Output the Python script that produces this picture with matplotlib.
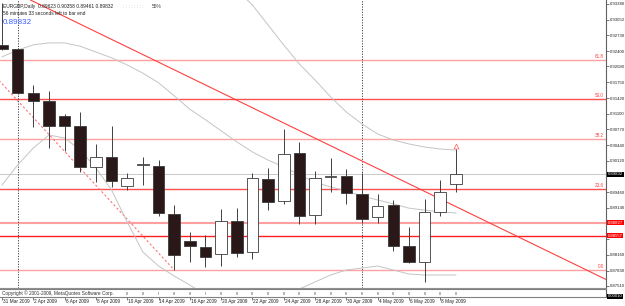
import numpy as np
import matplotlib
matplotlib.use("Agg")
import matplotlib.pyplot as plt
from matplotlib.patches import Rectangle

plt.rcParams['font.family'] = ['Liberation Sans', 'DejaVu Sans']

# ---------------- data (EURGBP daily) ----------------
opens = [0.92526, 0.92443, 0.91527, 0.91361, 0.91048, 0.90840, 0.89987, 0.90195, 0.89591, 0.90028,
         0.90008, 0.89009, 0.88446, 0.88321, 0.88176, 0.88863, 0.88217, 0.89737, 0.89279, 0.90278,
         0.88988, 0.89779, 0.89799, 0.89425, 0.88946, 0.89196, 0.88342, 0.88009, 0.89050, 0.89623]
highs = [0.93401, 0.92464, 0.91694, 0.91569, 0.91090, 0.91132, 0.90465, 0.90840, 0.89862, 0.90195,
         0.90132, 0.89196, 0.88634, 0.88571, 0.89112, 0.89133, 0.89862, 0.89966, 0.90778, 0.90507,
         0.89903, 0.90174, 0.89945, 0.89862, 0.89425, 0.89300, 0.88738, 0.89321, 0.89716, 0.90358]
lows = [0.92422, 0.91506, 0.90819, 0.90382, 0.90320, 0.89883, 0.89675, 0.89570, 0.89508, 0.89612,
        0.88967, 0.87843, 0.88009, 0.87905, 0.87926, 0.88113, 0.88072, 0.89092, 0.89217, 0.88800,
        0.88800, 0.89466, 0.89217, 0.88821, 0.88821, 0.88238, 0.87988, 0.87593, 0.88967, 0.89461]
closes = [0.92443, 0.91527, 0.91361, 0.90840, 0.90840, 0.89987, 0.90190, 0.89695, 0.89758, 0.90049,
          0.89029, 0.88155, 0.88342, 0.88113, 0.88863, 0.88197, 0.89758, 0.89258, 0.90257, 0.88967,
          0.89758, 0.89799, 0.89446, 0.88904, 0.89175, 0.88342, 0.88009, 0.89050, 0.89466, 0.89832]

bb_mid = [0.9228, 0.9242, 0.9253, 0.9257, 0.9257, 0.9250, 0.9238, 0.9226, 0.9211, 0.9194,
          0.9174, 0.9147, 0.9119, 0.9097, 0.9074, 0.9051, 0.9030, 0.9013, 0.8999, 0.8982,
          0.8967, 0.8957, 0.8949, 0.8938, 0.8930, 0.8922, 0.8913, 0.8909, 0.8905, 0.8903]
bb_up = [np.nan] * 12 + [0.94712, 0.94400, 0.94087, 0.93671, 0.93359, 0.92943, 0.92526, 0.92131,
                         0.91798, 0.91444, 0.91131, 0.90882, 0.90674, 0.90549, 0.90466, 0.90403,
                         0.90361, 0.90340]
bb_low = [0.89612, 0.90028, 0.90382, 0.90653, 0.90590, 0.90341, 0.89966, 0.89508, 0.88842, 0.88217,
          0.87926, 0.87718, 0.87530, 0.87322, 0.87114, 0.87010, 0.87010, 0.87114, 0.87260, 0.87447,
          0.87593, 0.87739, 0.87843, 0.87884, 0.87926, 0.87843, 0.87759, 0.87739, 0.87739, 0.87739]

date_idx = [0, 2, 4, 6, 8, 10, 12, 14, 16, 18, 20, 22, 24, 26, 28]
date_labels = ["31 Mar 2009", "2 Apr 2009", "6 Apr 2009", "8 Apr 2009", "10 Apr 2009",
               "14 Apr 2009", "16 Apr 2009", "20 Apr 2009", "22 Apr 2009", "24 Apr 2009",
               "28 Apr 2009", "30 Apr 2009", "4 May 2009", "6 May 2009", "8 May 2009"]

price_ticks = [0.93380, 0.93050, 0.92730, 0.92400, 0.92080, 0.91750, 0.91420, 0.91100, 0.90770,
               0.90440, 0.90120, 0.89790, 0.89460, 0.89140, 0.88810, 0.88480, 0.88160, 0.87830, 0.87510]
hidden_ticks = [0.89790, 0.88810, 0.88480]

fib_levels = [0.92214, 0.91402, 0.90570, 0.89529, 0.87843]
fib_names = ["61.8", "50.0", "38.2", "23.6", "0.0"]
fib_anchor = [(-9.2, 0.94962), (11.0, 0.87843)]
level_lines = [0.88827, 0.88557]
level_texts = ["0.88827", "0.88557"]
trend_anchor = [(18.0, 0.90903), (28.0, 0.89321)]
separators = [1, 23]
current_price = 0.89832
sub_marks = [1.0] * 22

# ---------------- figure ----------------
W, H = 625, 306
fig = plt.figure(figsize=(W / 100, H / 100), dpi=100)
fig.patch.set_facecolor('white')

main_bottom = 288
ax = fig.add_axes([0, (H - main_bottom) / H, 606 / W, main_bottom / H])
ax_sub = fig.add_axes([0, (H - 297) / H, 606 / W, 8 / H])

n = len(opens)
idx = np.arange(n)
ax.set_xlim(-0.128, 38.59)
ax.set_ylim(0.87468, 0.93463)
ax_sub.set_xlim(ax.get_xlim())
ax_sub.set_ylim(0, 1)

for s in ['left', 'top']:
    ax.spines[s].set_visible(False)
ax.spines['right'].set_color('#606060')
ax.spines['right'].set_linewidth(0.8)
ax.spines['bottom'].set_color('#909090')
ax.spines['bottom'].set_linewidth(0.8)

# right price axis
ax.yaxis.tick_right()
ax.set_yticks(price_ticks)
ax.set_yticklabels(["" if t in hidden_ticks else f"{t:.5f}" for t in price_ticks])
ax.tick_params(axis='y', direction='out', length=2, width=0.5, color='#404040',
               labelsize=3.1, labelcolor='#202020', pad=0.8)
ax.set_xticks([])

# separators
for s in separators:
    ax.axvline(s, color='#404040', lw=0.7, ls=(0, (1.2, 1.5)), zorder=2)

# fibonacci levels
fib_cols = ['#ffa0a0', '#ff5050', '#ffa0a0', '#ff5050', '#ffa0a0']
for lv, nm, col in zip(fib_levels, fib_names, fib_cols):
    ax.axhline(lv, color=col, lw=1.0, zorder=1)
    ax.text(38.45, lv + 0.00012, nm, color='#ff4040', fontsize=3.3, ha='right', va='bottom', zorder=5)
ax.plot([p[0] for p in fib_anchor], [p[1] for p in fib_anchor], color='#ff7070', lw=0.8,
        ls=(0, (2, 2)), zorder=1)

# horizontal levels
ax.axhline(level_lines[0], color='#ffa0a0', lw=1.5, zorder=1)
ax.axhline(level_lines[1], color='#ff2020', lw=1.0, zorder=1)

# current price line
ax.axhline(current_price, color='#c8c8c8', lw=0.7, zorder=1)

# trendline
ax.axline(trend_anchor[0], trend_anchor[1], color='#ff4040', lw=0.8, zorder=2)

# bollinger bands
for band in (bb_up, bb_mid, bb_low):
    ax.plot(idx, band, color='#c4c4c4', lw=0.7, zorder=2)

# candles
dark = '#2a1818'
edge = '#3a3a3a'
bw = 0.74
for i in range(n):
    o, h, l, c = opens[i], highs[i], lows[i], closes[i]
    ax.vlines(i, l, h, color='#404040', lw=0.7, zorder=3)
    bot = min(o, c)
    ht = max(abs(c - o), 0.00005)
    fc = dark if c < o else 'white'
    ax.add_patch(Rectangle((i - bw / 2, bot), bw, ht, facecolor=fc, edgecolor=edge,
                           lw=0.6, zorder=4))

# fractal arrow above last bar
ax.plot([n - 1], [highs[-1] + 0.00060], marker='^', ms=3.5, mfc='white', mec='#ff7070',
        mew=0.6, zorder=5)

# right-side label boxes
box_x = 1.003
for lv, tx in zip(level_lines, level_texts):
    ax.text(box_x, lv, tx, transform=ax.get_yaxis_transform(), fontsize=3.1, color='white',
            ha='left', va='center', clip_on=False, zorder=10,
            bbox=dict(boxstyle='square,pad=0.15', fc='#ff0000', ec='none'))
ax.text(box_x, current_price, f"{current_price:.5f}", transform=ax.get_yaxis_transform(),
        fontsize=3.1, color='white', ha='left', va='center', clip_on=False, zorder=10,
        bbox=dict(boxstyle='square,pad=0.15', fc='#000000', ec='none'))

# top-left info
ax.text(0.005, 0.985, "EURGBP,Daily  0.89623 0.90358 0.89461 0.89832", transform=ax.transAxes,
        fontsize=3.5, color='#202020', ha='left', va='top', zorder=6)
ax.text(0.005, 0.962, "56 minutes 33 seconds left to bar end", transform=ax.transAxes,
        fontsize=3.5, color='#202020', ha='left', va='top', zorder=6)
ax.text(0.004, 0.935, f"{current_price:.5f}", transform=ax.transAxes,
        fontsize=5.8, color='#3a5cff', ha='left', va='top', zorder=6)
ax.text(123 / 606, 0.985, ": : : : : : : :", transform=ax.transAxes,
        fontsize=3.5, color='#b0b0b0', ha='left', va='top', zorder=6)
ax.text(152 / 606, 0.985, "55%", transform=ax.transAxes,
        fontsize=3.5, color='#404040', ha='left', va='top', zorder=6)

# sub window
ax_sub.spines['left'].set_visible(False)
for s in ['top', 'bottom']:
    ax_sub.spines[s].set_color('#808080')
    ax_sub.spines[s].set_linewidth(0.8)
ax_sub.spines['right'].set_color('#606060')
ax_sub.spines['right'].set_linewidth(0.8)
ax_sub.set_yticks([])
ax_sub.bar(np.arange(8, 8 + len(sub_marks)), np.array(sub_marks) * 0.35, bottom=0.3,
           width=0.12, color='#b8b8b8', zorder=2)
ax_sub.text(0.004, 0.5, "Copyright © 2001-2009, MetaQuotes Software Corp.", transform=ax_sub.transAxes,
            fontsize=3.4, color='#303030', ha='left', va='center', zorder=5)
ax_sub.text(1.003, 0.1, "0.00010", transform=ax_sub.transAxes, fontsize=3.1, color='white',
            ha='left', va='center', clip_on=False, zorder=10,
            bbox=dict(boxstyle='square,pad=0.15', fc='#000000', ec='none'))

ax_sub.set_xticks(date_idx)
ax_sub.set_xticklabels([])
ax_sub.tick_params(axis='x', direction='out', length=2.5, width=0.5, color='#404040')
for i, lab in zip(date_idx, date_labels):
    ax_sub.text(i + 0.06, -0.6, lab, transform=ax_sub.get_xaxis_transform(), fontsize=3.4,
                color='#202020', ha='left', va='center', clip_on=False)

fig.savefig("out.png", dpi=100, facecolor='white')
